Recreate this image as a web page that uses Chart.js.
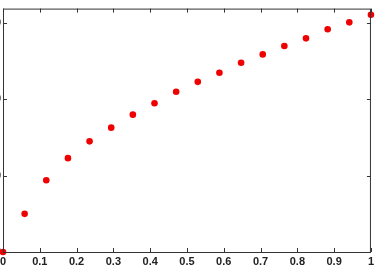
<!DOCTYPE html>
<html>
<head>
<meta charset="utf-8">
<script src="https://cdn.jsdelivr.net/npm/chart.js@4"></script>
<style>
  html, body { margin: 0; padding: 0; background: #fff; }
  #frame { position: relative; width: 377px; height: 272px; overflow: hidden; }
  #wrap { position: absolute; left: -37px; top: 0; width: 414px; height: 272px; }
</style>
</head>
<body>
<div id="frame"><div id="wrap"><canvas id="graph"></canvas></div></div>
<script>
const xValues = [0, 0.0588, 0.1176, 0.1765, 0.2353, 0.2941, 0.3529, 0.4118, 0.4706,
  0.5294, 0.5882, 0.6471, 0.7059, 0.7647, 0.8235, 0.8824, 0.9412, 1]
const yValues = [0, 5.0, 9.4, 12.3, 14.5, 16.3, 18.0, 19.5, 21.0,
  22.3, 23.5, 24.8, 25.9, 27.0, 28.0, 29.2, 30.1, 31.1]
const xTicks = [0, 0.1, 0.2, 0.3, 0.4, 0.5, 0.6, 0.7, 0.8, 0.9, 1]
const yTicks = [0, 10, 20, 30]

const axisColor = '#333'

// box round the plot and the small inward tick marks on all four sides
const frameBox = {
  id: 'frameBox',
  afterDraw(chart) {
    const ctx = chart.ctx
    const a = chart.chartArea
    const x = chart.scales.x
    const y = chart.scales.y
    ctx.save()
    ctx.strokeStyle = axisColor
    ctx.lineWidth = 1
    ctx.strokeRect(a.left + 0.5, a.top + 0.5, a.right - a.left - 1, a.bottom - a.top)
    ctx.beginPath()
    x.ticks.forEach(t => {
      let px = Math.round(x.getPixelForValue(t.value)) + 0.5
      ctx.moveTo(px, a.bottom); ctx.lineTo(px, a.bottom - 4)
      ctx.moveTo(px, a.top); ctx.lineTo(px, a.top + 4)
    })
    y.ticks.forEach(t => {
      let py = Math.round(y.getPixelForValue(t.value)) + 0.5
      ctx.moveTo(a.left, py); ctx.lineTo(a.left + 4, py)
      ctx.moveTo(a.right, py); ctx.lineTo(a.right - 4, py)
    })
    ctx.stroke()
    ctx.restore()
  }
}

const tickFont = { family: 'Liberation Sans', size: 11, weight: 'bold' }

new Chart(document.getElementById('graph'), {
  type: 'scatter',
  data: {
    datasets: [{
      data: xValues.map((v, i) => ({ x: v, y: yValues[i] })),
      backgroundColor: '#f00000',
      borderColor: '#f00000',
      pointRadius: 3.3,
      borderWidth: 0,
      clip: false
    }]
  },
  options: {
    responsive: true,
    maintainAspectRatio: false,
    animation: false,
    layout: { padding: { top: 5, right: 5, left: 0, bottom: 0 } },
    plugins: { legend: { display: false }, tooltip: { enabled: false } },
    scales: {
      x: {
        type: 'linear', min: 0, max: 1,
        afterBuildTicks: s => { s.ticks = xTicks.map(v => ({ value: v })) },
        afterFit: s => { s.height = 20 },
        grid: { display: false, drawTicks: false },
        border: { display: false },
        ticks: { color: '#222', font: tickFont, padding: 3, maxRotation: 0, autoSkip: false,
          callback: v => String(v) }
      },
      y: {
        type: 'linear', min: 0, max: 31.9,
        afterBuildTicks: s => { s.ticks = yTicks.map(v => ({ value: v })) },
        afterFit: s => { s.width = 40 },
        grid: { display: false, drawTicks: false },
        border: { display: false },
        ticks: { color: '#222', font: tickFont, padding: 2, callback: v => String(v) }
      }
    }
  },
  plugins: [frameBox]
})
</script>
</body>
</html>
